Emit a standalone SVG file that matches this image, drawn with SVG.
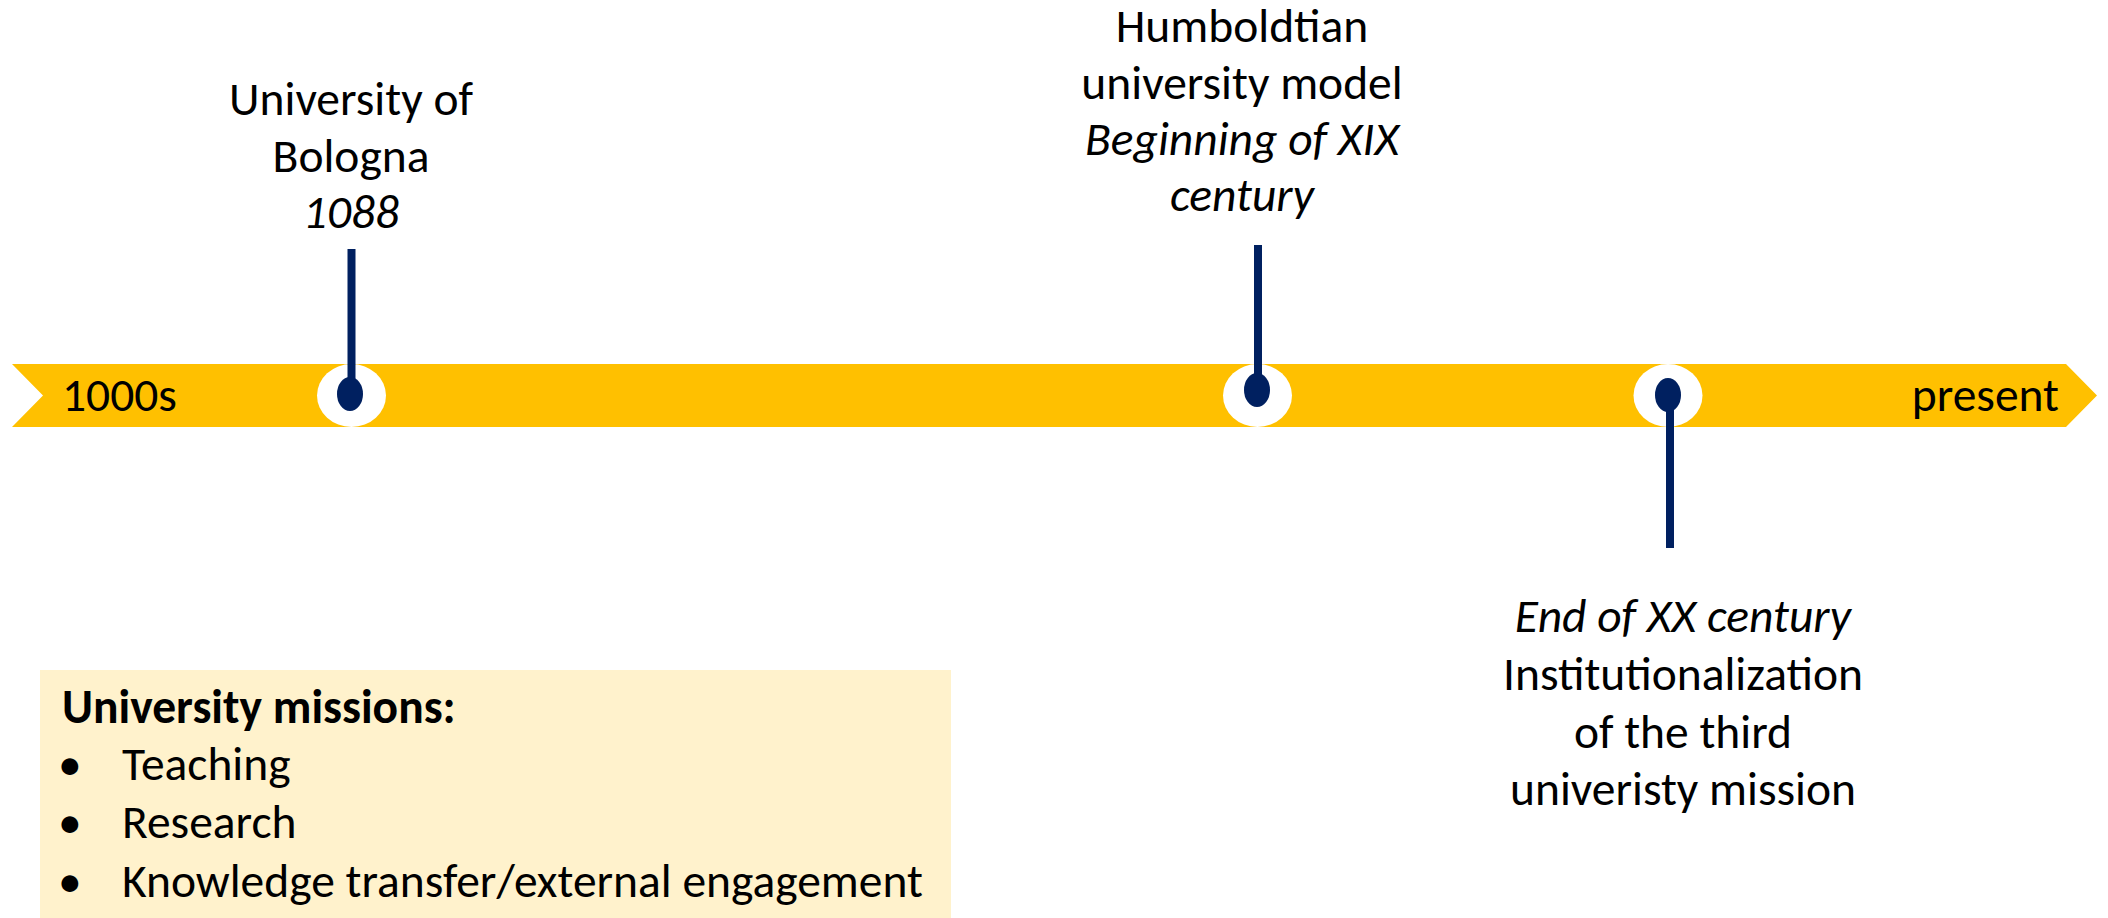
<svg xmlns="http://www.w3.org/2000/svg" width="2108" height="918" viewBox="0 0 2108 918">
<style>
.t{font-family:Carlito,Lato,"Liberation Sans",sans-serif;font-size:47.5px;fill:#000}
.c{text-anchor:middle}
.i{font-style:italic}
.b{font-weight:bold}
.halo{fill:#fff}
.dot{fill:#002060}
.stem{stroke:#002060;stroke-width:8;fill:none}
</style>
<rect width="2108" height="918" fill="#fff"/>
<g id="timeline">
<polygon points="12,364 2066,364 2097,395.5 2066,427 12,427 43,395.5" fill="#FFC000"/>
<text class="t" x="62" y="411">1000s</text>
<text class="t" x="2059" y="411" text-anchor="end">present</text>
</g>
<g id="connectors">
<line class="stem" x1="351.5" y1="249" x2="351.5" y2="385"/>
<line class="stem" x1="1258" y1="245" x2="1258" y2="382"/>
<line class="stem" x1="1670" y1="405" x2="1670" y2="548"/>
</g>
<g id="marker-bologna">
<ellipse class="halo" cx="351.5" cy="395.5" rx="34.5" ry="31.5"/>
<line class="stem" x1="351.5" y1="364" x2="351.5" y2="385"/>
<ellipse class="dot" cx="350" cy="394" rx="13" ry="17"/>
</g>
<g id="marker-humboldt">
<ellipse class="halo" cx="1257.5" cy="395.5" rx="34.5" ry="31.5"/>
<line class="stem" x1="1258" y1="364" x2="1258" y2="382"/>
<ellipse class="dot" cx="1257" cy="390" rx="13" ry="17"/>
</g>
<g id="marker-third">
<ellipse class="halo" cx="1668" cy="395.5" rx="34.5" ry="31.5"/>
<line class="stem" x1="1670" y1="405" x2="1670" y2="427"/>
<ellipse class="dot" cx="1668" cy="395" rx="13" ry="17"/>
</g>
<g id="label-bologna">
<text class="t c" x="351" y="115">University of</text>
<text class="t c" x="351" y="172">Bologna</text>
<text class="t c i" x="351" y="228">1088</text>
</g>
<g id="label-humboldt">
<text class="t c" x="1242" y="42">Humboldtian</text>
<text class="t c" x="1242" y="99">university model</text>
<text class="t c i" x="1242" y="155">Beginning of XIX</text>
<text class="t c i" x="1242" y="211">century</text>
</g>
<g id="label-third">
<text class="t c i" x="1683" y="632">End of XX century</text>
<text class="t c" x="1683" y="690">Institutionalization</text>
<text class="t c" x="1683" y="748">of the third</text>
<text class="t c" x="1683" y="805">univeristy mission</text>
</g>
<g id="missions-box">
<rect x="40" y="670" width="911" height="248" fill="#FFF2CC"/>
<text class="t b" x="62" y="723">University missions:</text>
<text class="t" x="58" y="780">•</text>
<text class="t" x="122" y="780">Teaching</text>
<text class="t" x="58" y="838">•</text>
<text class="t" x="122" y="838">Research</text>
<text class="t" x="58" y="897">•</text>
<text class="t" x="122" y="897">Knowledge transfer/external engagement</text>
</g>
</svg>
